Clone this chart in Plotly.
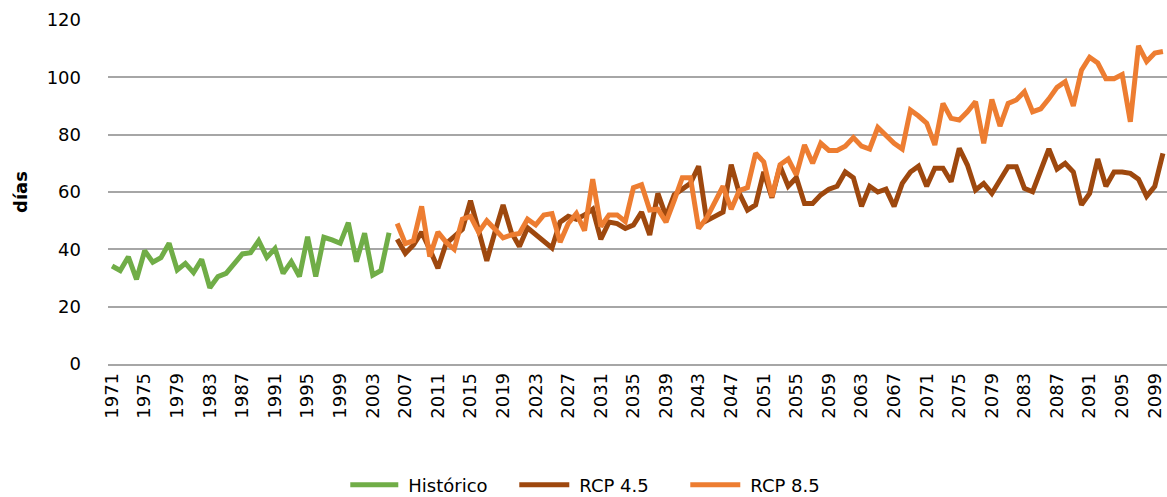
import plotly.graph_objects as go

years_hist = list(range(1971, 2006))
historico = [34.2, 32.6, 37.4, 29.5, 39.5, 35.5, 37.1, 42.1, 32.8, 35.1,
             31.9, 36.5, 26.6, 30.5, 31.6, 34.8, 38.4, 38.8, 43.0, 37.2,
             40.3, 31.6, 35.7, 30.5, 44.4, 30.5, 44.2, 43.3, 42.1, 49.3,
             35.7, 45.6, 31.0, 32.6, 45.8]

years_rcp = list(range(2006, 2101))
rcp45 = [43.5, 38.6, 41.5, 46.0, 40.0, 33.4, 42.0, 44.5, 47.0, 57.0,
         46.5, 36.0, 46.0, 55.5, 46.0, 41.0, 47.5, 45.0, 43.0, 40.5,
         49.5, 51.5, 50.5, 52.0, 54.0, 43.5, 49.5, 49.0, 47.3, 48.5,
         53.0, 45.0, 59.5, 51.5, 59.0, 61.0, 63.0, 69.0, 50.0, 51.5,
         53.0, 69.5, 59.5, 53.7, 55.5, 67.0, 58.0, 69.0, 62.0, 65.0,
         56.0, 56.0, 59.0, 61.0, 62.0, 67.0, 65.0, 55.0, 62.0, 60.0,
         61.0, 55.0, 63.0, 67.0, 69.0, 62.0, 68.3, 68.3, 63.6, 75.2,
         69.4, 60.7, 63.0, 59.5, 64.2, 68.8, 68.8, 61.3, 60.1, 67.7,
         75.0, 68.0, 70.0, 67.0, 55.5, 59.5, 71.5, 62.0, 67.0, 67.0,
         66.5, 64.5, 58.5, 62.0, 73.5]
rcp85 = [49.0, 42.0, 43.0, 55.0, 37.5, 46.0, 42.5, 40.0, 50.5, 51.5,
         46.0, 50.0, 47.0, 44.0, 45.0, 45.5, 50.5, 48.5, 52.0, 52.5,
         42.5, 49.0, 52.5, 46.5, 64.5, 47.9, 52.0, 52.0, 49.7, 61.5,
         62.5, 53.7, 54.0, 49.5, 57.0, 65.0, 65.0, 47.3, 51.0, 56.5,
         62.0, 54.0, 60.5, 61.5, 73.5, 70.5, 58.4, 69.5, 71.5, 66.0,
         76.4, 70.0, 77.0, 74.5, 74.5, 76.0, 79.0, 76.0, 75.0, 82.5,
         79.5, 77.0, 75.0, 88.6, 86.5, 84.0, 76.4, 90.9, 85.7, 85.1,
         88.0, 91.5, 77.0, 92.3, 83.0, 90.9, 92.1, 95.0, 88.0, 89.0,
         92.5, 96.5, 98.5, 90.0, 102.5, 107.0, 105.0, 99.5, 99.5, 101.0,
         84.5, 111.0, 105.5, 108.5, 109.0]

tick_years = list(range(1971, 2101, 4))

FONT = "DejaVu Sans, sans-serif"

fig = go.Figure()
fig.add_trace(go.Scatter(x=years_hist, y=historico, mode="lines", name="Histórico",
                         line=dict(color="#70AD47", width=5)))
fig.add_trace(go.Scatter(x=years_rcp, y=rcp45, mode="lines", name="RCP 4.5",
                         line=dict(color="#9E480E", width=5)))
fig.add_trace(go.Scatter(x=years_rcp, y=rcp85, mode="lines", name="RCP 8.5",
                         line=dict(color="#ED7D31", width=5)))

fig.update_layout(
    width=1167, height=497,
    margin=dict(l=108, r=0, t=20, b=133),
    paper_bgcolor="white", plot_bgcolor="white",
    font=dict(family=FONT, color="black", size=18),
    showlegend=True,
    legend=dict(orientation="h", x=0.471, xanchor="center",
                y=0.024, yanchor="middle", yref="container",
                font=dict(size=18, family=FONT, color="black"),
                itemwidth=48, entrywidth=108, entrywidthmode="pixels",
                tracegroupgap=0),
    xaxis=dict(range=[1970.5, 2100.5], tickmode="array", tickvals=tick_years,
               ticktext=[str(y) for y in tick_years], tickangle=-90,
               tickfont=dict(size=18, family=FONT, color="black"),
               showgrid=False, zeroline=False, showline=True,
               linecolor="#A6A6A6", linewidth=1.5, ticks=""),
    yaxis=dict(range=[0, 120], tickmode="array", tickvals=[0, 20, 40, 60, 80, 100, 120],
               tickfont=dict(size=18, family=FONT, color="black"),
               showgrid=True, gridcolor="#A6A6A6", gridwidth=1.5,
               zeroline=False, showline=False, ticks="",
               ticklabelstandoff=26,
               title=dict(text="<b>días</b>", standoff=14,
                          font=dict(size=18, family=FONT, color="black"))),
)

post = """
document.body.style.margin='0';
document.querySelectorAll('.legendlines path').forEach(function(p){
  p.setAttribute('d','M-2,0h50');
});
"""
fig.write_html("out.html", post_script=post, config={"displayModeBar": False})
